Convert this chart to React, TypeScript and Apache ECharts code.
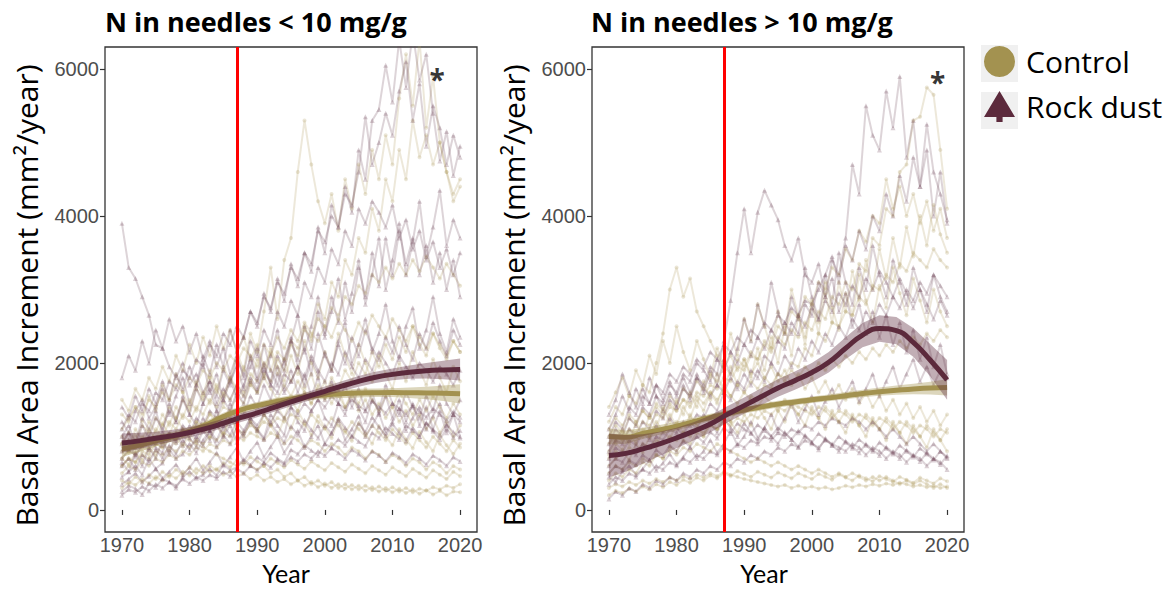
import React, { useEffect, useRef } from "react";
import * as echarts from "echarts";

// ---------- data ----------
const years: number[] = Array.from({ length: 51 }, (_, i) => 1970 + i);
const trendYears = [1970, 1972.5, 1975, 1977.5, 1980, 1982.5, 1985, 1987.5, 1990, 1992.5, 1995, 1997.5, 2000, 2002.5, 2005, 2007.5, 2010, 2012.5, 2015, 2017.5, 2020];

const xTicks = [1970, 1980, 1990, 2000, 2010, 2020];
const yTicks = [0, 2000, 4000, 6000];
const treatmentYear = 1987;
const panelTitles = ["N in needles < 10 mg/g", "N in needles > 10 mg/g"];
const asteriskPos = [[2016.6, 5860], [2018.6, 5820]];
const groupNames = ["Control", "Rock dust"];

// smoothed trends (GAM fit) and half-widths of confidence band
const leftControlTrend = [830, 880, 940, 1000, 1070, 1160, 1270, 1360, 1420, 1470, 1510, 1545, 1565, 1580, 1590, 1595, 1597, 1595, 1592, 1587, 1580];
const leftControlSE = [110, 90, 75, 65, 60, 55, 52, 50, 50, 50, 50, 52, 55, 57, 58, 59, 60, 70, 85, 105, 130];
const leftRockTrend = [910, 940, 975, 1010, 1055, 1110, 1180, 1255, 1320, 1395, 1470, 1545, 1615, 1685, 1750, 1805, 1845, 1875, 1895, 1905, 1910];
const leftRockSE = [130, 110, 90, 80, 70, 65, 60, 60, 60, 60, 60, 62, 65, 68, 72, 76, 80, 90, 105, 125, 150];
const rightControlTrend = [1000, 990, 1040, 1090, 1140, 1200, 1260, 1310, 1360, 1400, 1440, 1470, 1500, 1525, 1555, 1585, 1610, 1630, 1645, 1658, 1668];
const rightControlSE = [110, 90, 75, 65, 60, 55, 50, 48, 46, 45, 45, 45, 45, 47, 50, 52, 55, 62, 72, 88, 110];
const rightRockTrend = [740, 770, 830, 900, 980, 1070, 1170, 1300, 1420, 1540, 1660, 1760, 1870, 2010, 2200, 2380, 2470, 2440, 2280, 2040, 1770];
const rightRockSE = [300, 250, 200, 165, 140, 125, 115, 110, 110, 115, 120, 125, 130, 140, 150, 165, 180, 185, 195, 220, 270];

// individual trees, basal area increment per year 1970..2020
const leftRockTrees: number[][] = [
  [3900,3300,3150,2900,2650,2250,2200,1950,1800,2000, 1700,1850,1600,1750,1450,1650,1500,1700,1550,1800, 1650,1950,1700,1600,1850,1750,1950,1800,2100,1900, 1750,2000,1850,2150,1950,1800,2050,1900,2150,2000, 1850,2100,1950,1800,2000,1900,1750,1950,1850,1700, 1900],
  [1400,1250,1550,1350,1650,1450,1750,1500,1850,1650, 1950,1700,2100,1850,2250,1950,2450,2150,2350,2700, 2500,2950,2700,3150,2850,3350,3050,3500,3250,3850, 3500,4150,3850,4400,4050,4900,4500,5300,5450,6050, 5550,6400,5750,6500,5850,6200,5400,4750,5150,4550, 4950],
  [650,520,780,600,850,700,950,760,1050,880, 1150,950,1250,1050,1350,1100,1450,1200,1300,1550, 1400,1700,1500,1850,1600,1750,1950,1700,2050,1850, 2150,1900,2250,2000,2350,2100,2450,2200,2050,2350, 2150,2500,2250,2050,2400,2200,2550,2300,2100,2450, 2250],
  [250,330,290,210,360,310,420,380,300,450, 520,430,480,560,470,620,540,580,690,610, 720,650,780,700,640,820,760,880,810,740, 900,850,960,880,1010,930,870,1050,980,1120, 1040,960,1150,1080,1000,1180,1090,1020,1160,1060, 980],
  [900,1050,850,1150,980,1250,1100,1350,1200,1500, 1300,1650,1450,1750,1550,1900,1700,2050,1850,2300, 2100,2450,2250,2700,2500,2850,2650,3100,2900,3300, 3100,3550,3350,3800,3600,4100,3900,4200,4050,3850, 4150,3700,3950,3550,3800,3400,3650,3300,3550,3200, 3500],
  [800,950,720,880,1000,850,780,1020,920,1100, 980,860,1080,950,1150,1020,900,1120,1010,1200, 1080,960,1180,1050,920,1140,1020,1220,1090,980, 1150,1040,1250,1120,1000,1180,1060,1260,1130,1010, 1170,1050,940,1120,1000,1190,1070,960,1100,990, 1080],
  [1100,1300,1200,1450,1350,1600,1500,1750,1650,1900, 1800,2050,1950,2250,2100,2400,2250,2500,2350,2700, 2550,2900,2750,3100,2950,3300,3150,3500,3350,3800, 3650,4000,3850,4300,4150,4600,5350,4700,5000,5400, 5100,5700,6100,5300,5800,4950,5500,5200,4700,5100, 4800],
  [600,700,550,750,650,820,700,880,760,950, 820,1000,880,1080,950,1150,1020,1200,1080,1250, 1150,1300,1200,1350,1250,1400,1300,1450,1350,1500, 1400,1550,1450,1380,1500,1420,1350,1480,1400,1320, 1450,1380,1300,1420,1340,1260,1380,1300,1220,1340, 1260],
  [1800,2100,1900,2300,2000,2450,2200,2600,2300,2500, 2150,2400,2050,2300,1950,2200,1850,2100,1800,2050, 1750,2000,1700,1950,1650,1900,1600,1850,1550,1800, 1500,1750,1450,1700,1400,1650,1350,1600,1300,1550, 1250,1500,1200,1450,1150,1400,1100,1350,1050,1300, 1000],
  [700,820,750,900,820,980,880,1050,950,1150, 1050,1250,1150,1350,1250,1500,1350,1600,1450,1750, 1600,1900,1750,2100,1900,2300,2050,2500,2200,2700, 2350,2900,2550,3100,2700,3300,2900,3500,3050,3700, 3200,3800,3350,3700,3200,3600,3100,3500,3000,3400, 2900],
  [200,280,240,320,260,350,300,380,330,420, 360,450,400,480,430,520,460,560,500,600, 540,640,580,680,620,720,660,760,700,800, 740,840,780,700,820,760,680,800,740,660, 780,720,640,760,700,620,740,680,600,720, 660],
  [450,520,600,480,700,560,640,820,700,760, 900,780,950,1080,860,1000,1150,920,1050,1250, 1100,980,1300,1150,1020,1400,1200,1080,1350,1500, 1250,1150,1450,1300,1600,1380,1200,1500,1350,1700, 1450,1300,1600,1400,1250,1550,1350,1700,1450,1300, 1500],
  [1200,1050,1350,1500,1250,1400,1650,1300,1550,1800, 1450,1700,2000,1600,1850,1500,1750,1950,1650,2100, 1800,2250,1900,1700,2050,2350,1950,2200,1850,2400, 2100,1900,2300,2550,2000,2250,2600,2150,2400,2800, 2300,2050,2500,2750,2200,2450,2900,2400,2150,2600, 2350],
  [350,420,500,380,460,560,430,520,620,480, 580,700,540,650,780,600,720,850,660,800, 920,720,860,1000,780,920,1080,850,1000,1150, 900,1050,1220,950,1100,1280,1000,1150,1320,1050, 1200,1380,1080,1250,1400,1100,1280,1450,1150,1300, 1200],
  [1000,1150,900,1250,1100,1350,1050,1450,1200,1550, 1300,1150,1450,1650,1350,1550,1800,1500,1700,1950, 2200,1800,2100,2450,2000,2300,2650,2150,2500,2900, 2400,2700,3150,2600,2950,3400,2800,3200,3700,3000, 3400,3900,3200,3650,4200,3450,3850,4350,3600,3950, 3700],
];

const leftControlTrees: number[][] = [
  [400,350,450,380,480,420,520,450,550,480, 580,500,600,520,560,480,520,450,500,420, 480,400,450,380,420,350,400,330,380,310, 360,300,350,290,340,280,330,270,320,260, 310,250,300,240,290,260,310,280,330,300, 350],
  [900,1050,950,1150,1050,1250,1150,1400,1250,1500, 1350,1650,1500,1800,1600,1950,1750,2150,1900,2400, 2150,2700,3300,2600,3400,3700,4600,5300,4700,4200, 3900,4300,3800,4500,4100,4700,4300,4900,4500,5100, 4700,5600,6200,5500,6400,5200,5900,5000,4600,4200, 4400],
  [1000,850,1100,950,1200,1050,1300,1150,1400,1250, 1500,1350,1600,1450,1700,1550,1800,1650,1550,1750, 1600,1800,1650,1500,1700,1550,1750,1600,1450,1650, 1500,1700,1550,1400,1600,1450,1650,1500,1350,1550, 1400,1600,1450,1300,1500,1350,1550,1400,1250,1450, 1300],
  [600,700,650,750,700,800,750,850,800,900, 850,950,900,1000,950,1050,1000,1100,1050,1150, 1100,1200,1150,1250,1200,1300,1250,1150,1300,1200, 1100,1250,1150,1050,1200,1100,1000,1150,1050,950, 1100,1000,900,1050,950,850,1000,900,800,950, 850],
  [800,950,850,1000,900,1100,1000,1200,1100,1300, 1200,1400,1300,1500,1400,1600,1500,1700,1600,1850, 1750,2000,1900,2150,2050,2300,2200,2450,2350,2600, 2500,2750,2650,2900,2800,3050,2950,3200,3100,3300, 3150,3350,3200,3400,3250,3450,3300,3150,3350,3200, 3050],
  [700,800,750,850,800,900,850,950,900,1000, 950,900,850,800,750,700,650,600,650,600, 550,600,500,550,450,500,400,450,350,400, 330,380,300,350,280,330,260,310,250,300, 240,290,230,280,220,270,210,260,200,250, 240],
  [1300,1200,1400,1300,1500,1400,1600,1500,1700,1600, 1800,1700,1900,1800,2000,1900,2100,2000,2200,2100, 1950,2250,2100,2350,2200,2450,2300,2550,2400,2300, 2500,2350,2600,2450,2300,2550,2400,2650,2500,2350, 2600,2450,2300,2500,2350,2200,2400,2250,2100,2300, 2150],
  [500,600,550,650,600,700,650,750,700,800, 750,850,800,900,850,950,900,1000,950,1050, 1000,950,1050,1000,900,1000,950,850,950,900, 800,900,850,750,850,800,700,800,750,650, 750,700,600,700,650,550,650,600,500,600, 550],
  [600,700,650,800,750,900,850,1000,950,1100, 1050,1200,1150,1300,1250,1400,1350,1550,1450,1700, 1600,1850,1750,2050,1900,2250,2100,2500,2300,2800, 2600,3100,2900,3400,3200,3700,3500,4100,3800,4500, 4200,4900,4500,5300,4800,5100,4700,5000,4600,4300, 4500],
  [1500,1350,1650,1500,1800,1650,1950,1750,2100,1900, 2250,2000,2350,2100,2500,2200,2450,2150,2350,2050, 2250,1950,2150,1850,2050,1750,1950,1650,1850,1550, 1750,1450,1650,1400,1550,1350,1500,1300,1450,1250, 1400,1200,1350,1150,1300,1100,1250,1050,1200,1000, 1150],
  [900,780,1020,880,1100,960,1180,1020,1260,1100, 980,1200,1080,1320,1150,1000,1250,1120,1380,1200, 1050,1300,1150,1000,1250,1100,1350,1180,1020,1280, 1120,980,1220,1080,940,1180,1040,900,1140,1000, 880,1100,960,840,1060,920,800,1020,880,760, 900],
  [300,380,340,420,360,450,400,480,430,520, 470,560,500,600,540,640,580,680,620,720, 660,600,700,640,580,680,620,560,660,600, 540,640,580,520,620,560,500,600,540,480, 580,520,460,560,500,440,540,480,420,520, 460],
  [1100,1250,1400,1200,1550,1350,1700,1500,1850,1600, 1400,1750,1550,1900,1650,1450,1800,1600,1950,1700, 2050,1800,2200,1950,1750,2100,1850,2300,2000,1800, 2150,1900,2400,2100,1850,2250,2000,1750,2100,1850, 1650,2000,1750,2150,1900,1700,2050,1800,1600,1950, 1750],
  [700,620,780,680,850,740,920,800,980,860, 1050,920,1120,980,1180,1040,1250,1100,1000,1200, 1080,1300,1150,1400,1250,1500,1350,1600,1450,1700, 1550,1800,1650,1900,1750,2000,1850,2150,1950,2250, 2050,2350,2150,2500,2250,2100,2400,2200,2050,2300, 2150],
];

const rightRockTrees: number[][] = [
  [600,700,650,800,750,900,850,1000,950,1100, 1050,1200,1150,1300,1250,1450,1350,1600,1500,1750, 1650,1900,1800,2100,2000,2300,2200,2550,2400,2800, 2650,3100,2900,3400,3200,3700,4700,4300,5500,5100, 4900,5700,5200,5900,4800,5300,4400,4900,4000,4600, 3900],
  [800,950,900,1100,1000,1200,1100,1350,1250,1500, 1400,1650,1550,1800,1700,1950,1850,2300,2850,3500, 4100,3500,4050,4350,4150,3950,3600,3400,3700,3200, 3100,3350,2900,3150,2700,2950,2500,2800,2400,2700, 2350,2650,2250,2550,2150,2450,2050,2350,1950,2250, 1850],
  [350,450,400,500,450,550,500,600,550,650, 600,700,650,750,700,800,750,850,800,900, 850,950,900,1000,950,1050,1000,1100,1050,1150, 1100,1200,1150,1250,1200,1150,1250,1200,1100,1200, 1100,1000,1100,1000,900,1000,900,800,900,800, 700],
  [1000,1200,1100,1400,1300,1550,1450,1700,1600,1850, 1750,1950,1850,2050,1950,2150,2050,2250,2150,2350, 2250,2450,2350,2550,2450,2650,2550,2750,2650,2850, 2800,3000,3200,3450,3100,3600,3400,3800,3550,4000, 3800,4300,4000,4550,4200,4800,4400,5250,4600,4300, 3950],
  [150,250,200,300,250,350,300,400,350,450, 400,500,450,550,500,600,550,650,600,700, 650,750,700,800,750,850,800,900,850,950, 900,850,950,900,850,800,900,850,750,850, 800,700,800,750,650,750,700,600,700,650, 550],
  [900,1100,1000,1250,1150,1400,1300,1550,1450,1700, 1600,1850,1750,2000,1900,1750,2050,1900,2150,2000, 2250,2100,2350,2200,2450,2300,2550,2400,2650,2500, 2750,2600,2850,2700,2950,2800,3050,2900,3150,3000, 3250,3100,2900,3150,2950,2750,3000,2800,2600,2850, 2650],
  [1300,1500,1850,1600,1400,1650,1450,1700,1500,1750, 1550,1800,1600,1850,1650,1550,1700,1600,1800,1650, 1850,1700,1900,1750,2000,1850,2100,1950,2200,2050, 2300,2150,2400,2250,2500,2350,2600,2450,2700,2550, 2800,2650,2900,2750,3000,2850,3100,2950,3200,3050, 2900],
  [500,600,550,680,620,750,680,820,740,880, 800,940,860,1000,920,1060,980,1120,1040,1180, 1100,1040,1160,1080,1000,1120,1040,960,1080,1000, 920,1040,960,880,1000,920,840,960,880,800, 920,840,760,880,800,720,840,760,680,800, 720],
  [450,380,520,600,480,560,680,540,640,760, 620,720,850,700,800,950,780,900,1080,880, 1000,1200,980,1120,1300,1080,1250,1450,1200,1380, 1550,1300,1480,1650,1400,1580,1750,1480,1650,1850, 1550,1750,1950,1650,1850,2050,1750,1950,1700,1900, 1800],
  [700,850,780,950,880,1050,960,1150,1050,1250, 1120,1020,1200,1100,1300,1180,1050,1250,1120,1000, 1180,1050,940,1120,1000,900,1060,960,860,1020, 920,820,980,880,800,940,860,780,900,820, 740,860,780,700,820,740,660,780,700,620, 740],
  [1100,1300,1550,1350,1650,1450,1800,1550,1350,1600, 1400,1700,1500,1800,1600,1900,1700,2050,1850,2200, 2600,2300,2800,2500,3100,2700,2400,2900,2600,3300, 2900,2600,3200,2800,3500,3100,2800,3300,3000,3600, 3200,2900,3400,3100,2800,3300,3000,2700,3200,2900, 2700],
];

const rightControlTrees: number[][] = [
  [1000,1150,1050,1250,1150,1350,1250,1450,1350,1550, 1450,1650,1550,1750,1650,1850,1750,1950,1850,2050, 1950,2150,2050,2250,2150,2350,2250,2450,2350,2550, 2450,2700,2600,2900,2800,3100,3000,3350,3250,3700, 3600,4100,4000,4600,4700,5300,5350,5750,5650,4900, 4100],
  [1200,1400,1300,1550,1450,1700,1600,2000,2400,3000, 3300,2900,3150,2700,2500,2300,2100,1950,2100,1900, 2050,1850,2000,1800,1950,1750,1900,1700,1850,1650, 1800,1600,1750,1550,1700,1500,1650,1450,1600,1400, 1550,1350,1500,1300,1450,1250,1400,1200,1350,1150, 1300],
  [900,1000,950,1100,1050,1200,1150,1300,1250,1400, 1350,1500,1450,1600,1550,1700,1650,1800,1750,1950, 1900,2100,2050,2300,2200,2500,2400,2700,2600,2900, 2800,3100,3000,3300,3200,3550,3400,3800,3650,4000, 3900,4500,4100,4400,4000,4300,3900,4200,3800,4100, 3700],
  [300,350,320,380,340,400,360,420,380,440, 400,460,420,480,440,500,460,520,480,450, 420,400,380,360,340,320,340,300,330,300, 320,290,310,280,300,330,310,340,320,350, 330,360,340,370,350,320,340,310,330,300, 320],
  [500,600,550,650,600,700,650,750,700,800, 750,850,800,900,850,800,900,850,800,750, 700,650,700,650,600,650,600,550,600,550, 500,550,500,450,500,450,500,450,400,450, 400,450,400,350,400,350,400,350,300,350, 300],
  [1100,1250,1150,1300,1200,1350,1250,1400,1300,1450, 1350,1500,1400,1550,1450,1600,1500,1650,1550,1700, 1600,1750,1650,1800,1700,1850,1750,1900,1800,1950, 1850,2000,1900,2050,1950,2100,2000,2150,2050,2200, 2100,2250,2150,2300,2200,2350,2250,2400,2300,2450, 2350],
  [700,800,750,850,800,900,850,950,900,1000, 950,1050,1000,1100,1050,1150,1100,1200,1150,1250, 1200,1300,1250,1350,1300,1400,1350,1450,1400,1350, 1300,1400,1350,1250,1350,1300,1200,1300,1250,1150, 1250,1200,1100,1200,1150,1050,1150,1100,1000,1100, 1050],
  [400,500,450,550,500,650,600,750,700,850, 800,950,900,1050,1000,1150,1100,1250,1200,1400, 1350,1550,1500,1700,1650,1850,1800,2000,1950,2200, 2100,2400,2300,2550,2500,2700,2650,2900,2800,3050, 3000,3200,3100,3350,3250,3500,3400,3300,3550,3400, 3300],
  [750,900,820,1000,920,1100,1000,1200,1080,1300, 1150,1400,1250,1500,1350,1600,1450,1700,1550,1450, 1600,1500,1400,1550,1450,1350,1500,1400,1300,1450, 1350,1250,1400,1300,1200,1350,1250,1150,1300,1200, 1100,1250,1150,1050,1200,1100,1000,1150,1050,950, 1100],
  [600,700,800,680,900,780,1000,860,1100,950, 1200,1050,1300,1150,1000,1250,1100,1350,1200,1050, 1300,1150,1400,1250,1100,1350,1200,1450,1300,1150, 1400,1250,1100,1350,1200,1050,1300,1150,1000,1250, 1100,950,1200,1050,900,1150,1000,850,1100,950, 800],
  [1400,1600,1800,1550,1900,1700,2100,1850,2300,2000, 2500,2150,1900,2300,2050,1800,2200,1950,2400,2100, 2600,2300,2800,2500,2200,2700,2400,3000,2650,2350, 2850,2550,3100,2750,2450,2950,2650,3200,2850,2550, 3050,2750,3300,2950,2650,3150,2850,2550,3000,2700, 2500],
  [200,260,230,290,250,320,280,350,310,380, 340,410,370,440,400,470,430,500,460,530, 490,450,520,480,440,510,470,430,500,460, 420,490,450,410,480,440,400,470,430,390, 460,420,380,450,410,370,440,400,360,430, 390],
  [800,950,1100,900,1200,1000,1300,1100,1400,1200, 1500,1300,1600,1400,1750,1500,1850,1600,1950,1700, 2050,1800,2200,1900,2350,2000,2500,2100,2650,2250, 2800,2400,2950,2550,3100,2700,3250,2850,3400,3000, 3550,3150,3700,3300,3850,3450,4000,3600,4150,3750, 3500],
];

// ---------- styles ----------
const CONTROL = "#a39250";
const ROCK = "#5c2a3c";
const CONTROL_FAINT = "#b09a60";
const ROCK_FAINT = "#6e4356";
const UI_FONT = "'Open Sans', 'Noto Sans', sans-serif";
const YEAR_FONT = "Lato, 'Open Sans', sans-serif";
const NUM_FONT = "'Liberation Sans', Arial, sans-serif";
const TREE_ICON = "path://M50,0 L100,84 L60,84 L60,100 L40,100 L40,84 L0,84 Z";
const plainNumber = (v: number) => String(v);

function treeSeries(lines: number[][], color: string, symbol: string, size: number, idx: number) {
  return lines.map((arr) => ({
    type: "line",
    xAxisIndex: idx,
    yAxisIndex: idx,
    silent: true,
    z: 1,
    data: years.map((y, i) => [y, arr[i]]),
    symbol,
    symbolSize: size,
    showSymbol: true,
    lineStyle: { color, width: 2, opacity: 0.23 },
    itemStyle: { color, opacity: 0.25 },
  }));
}

function bandSeries(mid: number[], half: number[], color: string, idx: number, z: number) {
  return {
    type: "custom",
    xAxisIndex: idx,
    yAxisIndex: idx,
    silent: true,
    clip: true,
    z,
    data: trendYears.map((y, i) => [y, mid[i] - half[i], mid[i] + half[i]]),
    encode: { x: 0, y: [1, 2] },
    renderItem: (params: any, api: any) => {
      if (params.dataIndex !== 0) return null;
      const pts: number[][] = [];
      for (let i = 0; i < trendYears.length; i++) pts.push(api.coord([trendYears[i], mid[i] + half[i]]));
      for (let i = trendYears.length - 1; i >= 0; i--) pts.push(api.coord([trendYears[i], mid[i] - half[i]]));
      return { type: "polygon", shape: { points: pts }, style: { fill: color, opacity: 0.38 } };
    },
  };
}

function trendSeries(name: string, vals: number[], color: string, idx: number, z: number) {
  return {
    type: "line",
    name,
    xAxisIndex: idx,
    yAxisIndex: idx,
    silent: true,
    z,
    smooth: true,
    symbol: "none",
    data: trendYears.map((y, i) => [y, vals[i]]),
    lineStyle: { color, width: 5 },
    itemStyle: { color },
  };
}

function markerSeries(idx: number) {
  return {
    type: "scatter",
    xAxisIndex: idx,
    yAxisIndex: idx,
    silent: true,
    z: 10,
    symbolSize: 1,
    itemStyle: { color: "rgba(0,0,0,0)" },
    data: [asteriskPos[idx]],
    label: { show: true, position: "inside", formatter: "*", fontSize: 28, fontWeight: "bold", color: "#000", fontFamily: UI_FONT },
    markLine: {
      silent: true,
      symbol: "none",
      label: { show: false },
      lineStyle: { color: "#ff0000", width: 3, type: "solid", opacity: 1 },
      data: [{ xAxis: treatmentYear }],
    },
  };
}

function xAxis(idx: number, shift: number) {
  return {
    type: "value",
    gridIndex: idx,
    min: 1967.5,
    max: 2022.5,
    splitLine: { show: false },
    axisLine: { show: false },
    axisTick: { show: true, length: 5, customValues: xTicks, lineStyle: { color: "#333", width: 1.2 } },
    axisLabel: { customValues: xTicks, formatter: plainNumber, color: "#4d4d4d", fontSize: 20, fontFamily: NUM_FONT, margin: 3 },
    name: "Year",
    nameLocation: "middle",
    nameGap: 28.5,
    nameMoveOverlap: false,
    nameTextStyle: { fontSize: 25, lineHeight: 25, color: "#000", fontFamily: YEAR_FONT, padding: [0, shift, 0, 0] },
  };
}

function yAxis(idx: number) {
  return {
    type: "value",
    gridIndex: idx,
    min: -300,
    max: 6300,
    splitLine: { show: false },
    axisLine: { show: false },
    axisTick: { show: true, length: 5, customValues: yTicks, lineStyle: { color: "#333", width: 1.2 } },
    axisLabel: { customValues: yTicks, formatter: plainNumber, color: "#4d4d4d", fontSize: 20, fontFamily: NUM_FONT, margin: 6 },
    name: "Basal Area Increment (mm²/year)",
    nameLocation: "middle",
    nameRotate: 90,
    nameGap: 64,
    nameTextStyle: { fontSize: 30, color: "#000", fontFamily: UI_FONT, padding: [0, 12, 0, 0] },
  };
}

export default function App() {
  const ref = useRef<HTMLDivElement>(null);
  useEffect(() => {
    if (!ref.current) return;
    const chart = echarts.init(ref.current, null, { renderer: "svg" });
    const panels = [
      { ctrlTrees: leftControlTrees, rockTrees: leftRockTrees, ct: leftControlTrend, cs: leftControlSE, rt: leftRockTrend, rs: leftRockSE },
      { ctrlTrees: rightControlTrees, rockTrees: rightRockTrees, ct: rightControlTrend, cs: rightControlSE, rt: rightRockTrend, rs: rightRockSE },
    ];
    const series: any[] = [];
    panels.forEach((p, idx) => {
      series.push(...treeSeries(p.ctrlTrees, CONTROL_FAINT, "circle", 4, idx));
      series.push(...treeSeries(p.rockTrees, ROCK_FAINT, "triangle", 5, idx));
      series.push(bandSeries(p.ct, p.cs, CONTROL, idx, 3));
      series.push(trendSeries(groupNames[0], p.ct, CONTROL, idx, 4));
      series.push(bandSeries(p.rt, p.rs, ROCK, idx, 5));
      series.push(trendSeries(groupNames[1], p.rt, ROCK, idx, 6));
      series.push(markerSeries(idx));
    });
    chart.setOption({
      animation: false,
      backgroundColor: "#ffffff",
      title: [
        { text: panelTitles[0], left: 100, top: 3, textStyle: { fontSize: 27, fontWeight: "bold", color: "#000", fontFamily: UI_FONT } },
        { text: panelTitles[1], left: 586, top: 3, textStyle: { fontSize: 27, fontWeight: "bold", color: "#000", fontFamily: UI_FONT } },
      ],
      grid: [
        { left: 105, top: 47, width: 372, height: 485, show: true, borderColor: "#333", borderWidth: 1.3, backgroundColor: "#fff", outerBoundsMode: "none", containLabel: false },
        { left: 592, top: 47, width: 372, height: 485, show: true, borderColor: "#333", borderWidth: 1.3, backgroundColor: "#fff", outerBoundsMode: "none", containLabel: false },
      ],
      xAxis: [xAxis(0, 10), xAxis(1, 28)],
      yAxis: [yAxis(0), yAxis(1)],
      legend: {
        orient: "vertical",
        left: 979,
        top: 41,
        itemWidth: 31,
        itemHeight: 31,
        itemGap: 14,
        selectedMode: false,
        z: 10,
        data: [
          { name: groupNames[0], icon: "circle" },
          { name: groupNames[1], icon: TREE_ICON },
        ],
        textStyle: { fontSize: 30, color: "#000", fontFamily: UI_FONT, padding: [0, 0, 0, 6] },
      },
      graphic: [
        { type: "rect", left: 981, top: 45, z: 0, shape: { width: 37, height: 37 }, style: { fill: "#f0f0f0" } },
        { type: "rect", left: 981, top: 92, z: 0, shape: { width: 37, height: 37 }, style: { fill: "#f0f0f0" } },
      ],
      series,
    });
    return () => chart.dispose();
  }, []);
  return <div ref={ref} style={{ position: "fixed", left: 0, top: 0, width: 1169, height: 589, background: "#fff" }} />;
}
